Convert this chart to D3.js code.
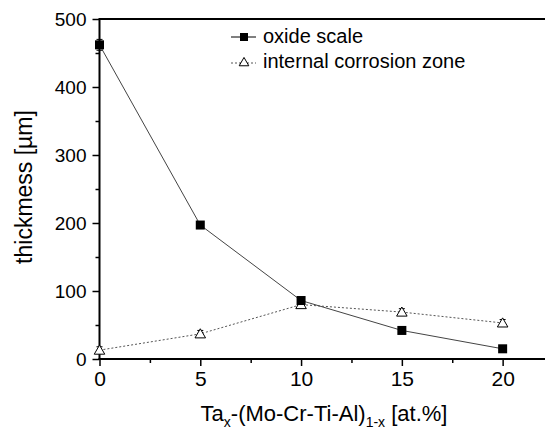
<!DOCTYPE html>
<html lang="en">
<head>
    <meta charset="UTF-8">
    <title>Thickness vs Ta content</title>
    <script src="https://cdn.jsdelivr.net/npm/d3@7"></script>
    <style>
        body { margin: 0; background: #fff; }
        text { font-family: "Liberation Sans", Arial, sans-serif; fill: #000; }
    </style>
</head>
<body>
<div id="chart"></div>
<script>
    // data
    const taContent = [0, 5, 10, 15, 20];
    const oxideScale = [462, 197, 86, 42, 15];
    const oxideErr = [8, 3, 3, 3, 3];
    const internalZone = [13, 37, 80, 69, 53];
    const internalErr = [5, 5, 5, 5, 5];
    const xTicks = [0, 5, 10, 15, 20];
    const yTicks = [0, 100, 200, 300, 400, 500];

    const width = 545, height = 432;

    const x = d3.scaleLinear().domain([0, 22.3]).range([99.5, 549]);
    const y = d3.scaleLinear().domain([0, 500]).range([359, 19]);

    const svg = d3.select("#chart").append("svg")
        .attr("width", width)
        .attr("height", height);

    // axes
    const xAxis = svg.append("g")
        .attr("transform", `translate(0,${y(0)})`)
        .call(d3.axisBottom(x).tickValues(xTicks).tickSize(7).tickPadding(5).tickFormat(d3.format("d")));
    svg.append("g")
        .attr("transform", `translate(0,${y(0)})`)
        .call(d3.axisBottom(x).tickValues(d3.range(2.5, 22.5, 5)).tickSize(4).tickFormat(""))
        .call(g => g.select(".domain").remove());

    const yAxis = svg.append("g")
        .attr("transform", `translate(${x(0)},0)`)
        .call(d3.axisLeft(y).tickValues(yTicks).tickSize(7).tickPadding(6));
    svg.append("g")
        .attr("transform", `translate(${x(0)},0)`)
        .call(d3.axisLeft(y).tickValues(d3.range(50, 500, 100)).tickSize(4).tickFormat(""))
        .call(g => g.select(".domain").remove());

    xAxis.select(".domain").remove();
    yAxis.select(".domain").remove();
    svg.selectAll(".tick line").attr("stroke", "#000").attr("stroke-width", 1.5);
    xAxis.selectAll(".tick text").attr("font-size", 21).attr("fill", "#000");
    yAxis.selectAll(".tick text").attr("font-size", 19).attr("fill", "#000");

    // frame lines (left, bottom, top)
    svg.append("line").attr("x1", x(0)).attr("x2", x(0)).attr("y1", y(500)).attr("y2", y(0))
        .attr("stroke", "#000").attr("stroke-width", 2);
    svg.append("line").attr("x1", x(0) - 1).attr("x2", width).attr("y1", y(0)).attr("y2", y(0))
        .attr("stroke", "#000").attr("stroke-width", 2);
    svg.append("line").attr("x1", x(0) - 1).attr("x2", width).attr("y1", y(500)).attr("y2", y(500))
        .attr("stroke", "#000").attr("stroke-width", 2);

    // axis titles
    svg.append("text")
        .attr("transform", "translate(32,187) rotate(-90)")
        .attr("text-anchor", "middle")
        .attr("font-size", 23)
        .text("thickmess [\u00b5m]");

    const xt = svg.append("text")
        .attr("x", 324).attr("y", 421)
        .attr("text-anchor", "middle")
        .attr("font-size", 22);
    xt.append("tspan").text("Ta");
    xt.append("tspan").attr("font-size", 14).attr("dy", 6).text("x");
    xt.append("tspan").attr("dy", -6).text("-(Mo-Cr-Ti-Al)");
    xt.append("tspan").attr("font-size", 14).attr("dy", 6).text("1-x");
    xt.append("tspan").attr("dy", -6).text(" [at.%]");

    const oxide = taContent.map((t, i) => ({t, v: oxideScale[i], e: oxideErr[i]}));
    const internal = taContent.map((t, i) => ({t, v: internalZone[i], e: internalErr[i]}));

    const line = d3.line().x(d => x(d.t)).y(d => y(d.v));

    // internal corrosion zone: dotted
    svg.append("path").datum(internal)
        .attr("d", line)
        .attr("fill", "none")
        .attr("stroke", "#555")
        .attr("stroke-width", 1)
        .attr("stroke-dasharray", "2,2");

    // oxide scale: solid
    svg.append("path").datum(oxide)
        .attr("d", line)
        .attr("fill", "none")
        .attr("stroke", "#444")
        .attr("stroke-width", 1);

    function errorBars(data) {
        const g = svg.append("g").attr("stroke", "#000").attr("stroke-width", 1);
        data.forEach(d => {
            g.append("line").attr("x1", x(d.t)).attr("x2", x(d.t)).attr("y1", y(d.v - d.e)).attr("y2", y(d.v + d.e));
            g.append("line").attr("x1", x(d.t) - 3).attr("x2", x(d.t) + 3).attr("y1", y(d.v - d.e)).attr("y2", y(d.v - d.e));
            g.append("line").attr("x1", x(d.t) - 3).attr("x2", x(d.t) + 3).attr("y1", y(d.v + d.e)).attr("y2", y(d.v + d.e));
        });
    }
    errorBars(internal);
    errorBars(oxide);

    const tri = d3.symbol().type(d3.symbolTriangle).size(48);
    svg.append("g").selectAll("path")
        .data(internal)
        .join("path")
        .attr("d", tri)
        .attr("transform", d => `translate(${x(d.t)},${y(d.v) + 1})`)
        .attr("fill", "#fff")
        .attr("stroke", "#000")
        .attr("stroke-width", 1);

    svg.append("g").selectAll("rect")
        .data(oxide)
        .join("rect")
        .attr("x", d => x(d.t) - 4.5)
        .attr("y", d => y(d.v) - 4.5)
        .attr("width", 9)
        .attr("height", 9)
        .attr("fill", "#000");

    // legend
    const leg = svg.append("g");
    leg.append("line").attr("x1", 231).attr("x2", 256).attr("y1", 37).attr("y2", 37)
        .attr("stroke", "#000").attr("stroke-width", 1);
    leg.append("rect").attr("x", 240).attr("y", 33).attr("width", 8).attr("height", 8).attr("fill", "#000");
    leg.append("text").attr("x", 263).attr("y", 43).attr("font-size", 20).text("oxide scale");

    leg.append("line").attr("x1", 231).attr("x2", 256).attr("y1", 63).attr("y2", 63)
        .attr("stroke", "#555").attr("stroke-width", 1).attr("stroke-dasharray", "2,2");
    leg.append("path").attr("d", d3.symbol().type(d3.symbolTriangle).size(40)).attr("transform", "translate(244,63)")
        .attr("fill", "#fff").attr("stroke", "#000");
    leg.append("text").attr("x", 263).attr("y", 68).attr("font-size", 20).text("internal corrosion zone");
</script>
</body>
</html>
